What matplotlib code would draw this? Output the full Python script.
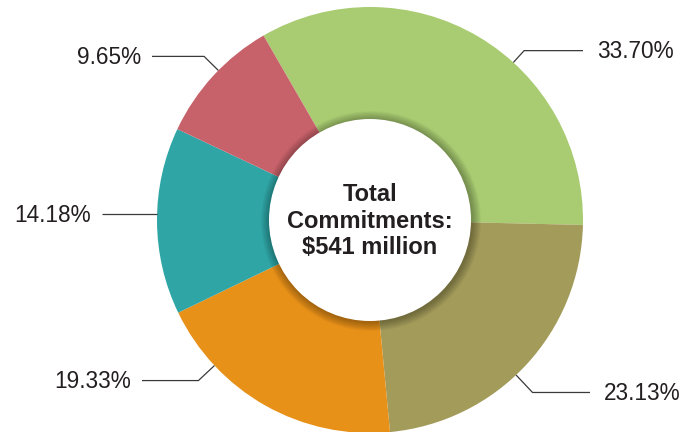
import numpy as np
import matplotlib.pyplot as plt
from matplotlib.patches import Circle

# slice data, clockwise from the top-left
labels = ['33.70%', '23.13%', '19.33%', '14.18%', '9.65%']
shares = [33.70, 23.13, 19.33, 14.18, 9.65]
colors = ['#a9cc72', '#a39b5a', '#e89119', '#30a5a5', '#c8626a']
center_text = 'Total\nCommitments:\n$541 million'

# leader line layout: angle on the rim, length of the slanted part,
# x where the horizontal part ends
lead_angle = [47.7, -46.7, -136.9, 178.4, 135.4]
lead_len = [16, 24, 22, 0, 20]
lead_end_x = [583, 590, 142, 102, 152]

plt.rcParams['font.family'] = ['Liberation Sans', 'DejaVu Sans']

fig = plt.figure(figsize=(6.81, 4.32), dpi=100)
ax = fig.add_axes([0, 0, 1, 1])

cx, cy, r_out, r_in = 370, 212, 213, 101
ax.pie(shares, colors=colors, startangle=120, counterclock=False,
       center=(cx, cy), radius=r_out, frame=True,
       wedgeprops=dict(linewidth=0))

# soft shadow under the centre disc
for k in range(10, 0, -1):
    ax.add_patch(Circle((cx + 1, cy - 1), r_in + k * 0.9, color='#000000',
                        alpha=0.03, lw=0, zorder=3))
ax.add_patch(Circle((cx, cy), r_in, color='white', lw=0, zorder=4))
ax.text(cx, cy - 1, center_text, ha='center', va='center', fontsize=17,
        fontweight='bold', color='#231f20', linespacing=1.2, zorder=5)

for lab, ang, ln, ex in zip(labels, lead_angle, lead_len, lead_end_x):
    a = np.radians(ang)
    x0, y0 = cx + r_out * np.cos(a), cy + r_out * np.sin(a)
    x1, y1 = cx + (r_out + ln) * np.cos(a), cy + (r_out + ln) * np.sin(a)
    ax.plot([x0, x1, ex], [y0, y1, y1], color='#3a3a3a', lw=0.9,
            zorder=6, solid_capstyle='butt')
    if ex > cx:
        ax.text(ex + 14, y1 - 1, lab, ha='left', va='center', fontsize=16.3,
                color='#231f20')
    else:
        ax.text(ex - 11, y1 - 1, lab, ha='right', va='center', fontsize=16.3,
                color='#231f20')

ax.set_xlim(0, 681)
ax.set_ylim(0, 432)
ax.set_aspect('auto')
ax.axis('off')

fig.savefig('out.png', dpi=100)
